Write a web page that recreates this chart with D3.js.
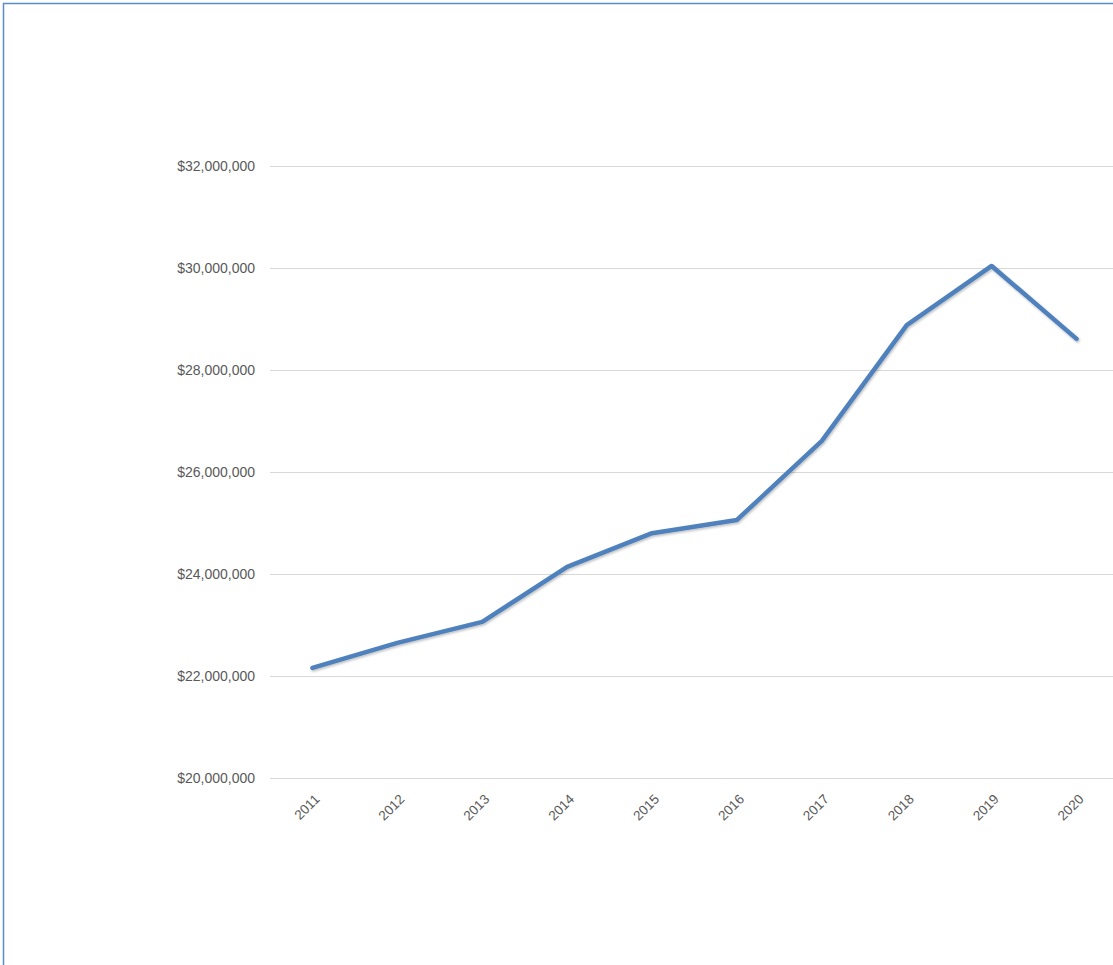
<!DOCTYPE html>
<html><head><meta charset="utf-8">
<script src="https://cdn.jsdelivr.net/npm/d3@7"></script>
<style>html,body{margin:0;padding:0;background:#fff;overflow:hidden}</style>
</head><body>
<svg id="chart" width="1113" height="965"></svg>
<script>
const years = ["2011","2012","2013","2014","2015","2016","2017","2018","2019","2020"];
const values = [22160000, 22650000, 23060000, 24140000, 24800000, 25060000, 26610000, 28880000, 30040000, 28610000];
const yTicks = [20000000, 22000000, 24000000, 26000000, 28000000, 30000000, 32000000];

const svg = d3.select("#chart");
const W = 1113, H = 965;
const plot = {left: 270, right: 1119, top: 166, bottom: 778};

svg.append("rect").attr("width", W).attr("height", H).attr("fill", "#fff");

// frame
svg.append("line").attr("x1", 3.5).attr("x2", 3.5).attr("y1", 3).attr("y2", H).attr("stroke", "#5b8cc8").attr("stroke-width", 1.5);
svg.append("line").attr("x1", 3).attr("x2", W).attr("y1", 3.5).attr("y2", 3.5).attr("stroke", "#5b8cc8").attr("stroke-width", 1.5);

const x = d3.scaleBand().domain(years).range([plot.left, plot.right]);
const y = d3.scaleLinear().domain([20000000, 32000000]).range([plot.bottom, plot.top]);

const fmt = v => "$" + d3.format(",")(v);

// gridlines
svg.append("g").selectAll("line").data(yTicks).join("line")
  .attr("x1", plot.left).attr("x2", plot.right)
  .attr("y1", d => Math.round(y(d)) + 0.5).attr("y2", d => Math.round(y(d)) + 0.5)
  .attr("stroke", "#d9d9d9").attr("stroke-width", 1);

// y axis labels
const yAxis = d3.axisLeft(y).tickValues(yTicks).tickFormat(fmt).tickSize(0).tickPadding(0);
const gy = svg.append("g").attr("transform", `translate(255,0)`).call(yAxis);
gy.select(".domain").remove();
gy.selectAll("text").attr("font-family", "Liberation Sans, Arial, sans-serif").attr("font-size", 14).attr("fill", "#595959");

// x axis labels
const xAxis = d3.axisBottom(x).tickSize(0).tickPadding(0);
const gx = svg.append("g").attr("transform", `translate(0,${plot.bottom})`).call(xAxis);
gx.select(".domain").remove();
gx.selectAll("text")
  .attr("font-family", "Liberation Sans, Arial, sans-serif").attr("font-size", 13.5).attr("fill", "#595959")
  .attr("text-anchor", "end").attr("dy", null).attr("y", 0).attr("x", 0)
  .attr("transform", "translate(8,22) rotate(-45)");

// shadow filter
const defs = svg.append("defs");
const f = defs.append("filter").attr("id", "sh").attr("x", "-5%").attr("y", "-5%").attr("width", "110%").attr("height", "110%");
f.append("feDropShadow").attr("dx", 1).attr("dy", 1.5).attr("stdDeviation", 1).attr("flood-color", "#000").attr("flood-opacity", 0.25);

const line = d3.line().x((d, i) => x(years[i]) + x.bandwidth() / 2).y(d => y(d));
svg.append("path").datum(values).attr("d", line)
  .attr("fill", "none").attr("stroke", "#4f81bd").attr("stroke-width", 4.5)
  .attr("stroke-linejoin", "round").attr("stroke-linecap", "round")
  .attr("filter", "url(#sh)");
</script>
</body></html>
